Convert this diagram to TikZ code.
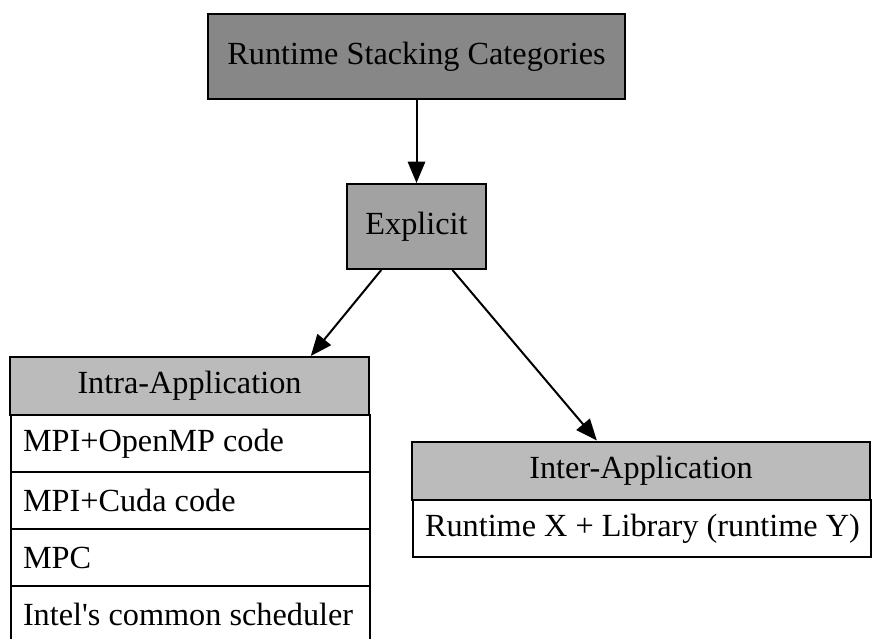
\documentclass[tikz,border=0pt]{standalone}
\usepackage{fontspec}
\setmainfont{Liberation Serif}
\usetikzlibrary{positioning,arrows.meta,calc}
\usepackage{xcolor}
\definecolor{topgray}{HTML}{878787}
\definecolor{midgray}{HTML}{A2A2A2}
\definecolor{headgray}{HTML}{BBBBBB}

\begin{document}
\begin{tikzpicture}[x=0.75pt,y=-0.75pt,font=\fontsize{24.2}{28}\selectfont,>={Triangle[length=16pt,width=13pt]},line width=1.5pt]
\useasboundingbox (0,0) rectangle (872,639);
\tikzset{
  catbox/.style={draw, inner sep=0pt, minimum height=63.75pt},
  headbox/.style={draw, fill=headgray, inner sep=0pt, minimum height=43.5pt},
  rowbox/.style={draw, anchor=west, inner xsep=9pt, inner ysep=0pt, minimum height=42.75pt}
}
\newcommand{\introw}[1]{\makebox[251.25pt][l]{#1}}
\newcommand{\interrow}[1]{\makebox[325.5pt][l]{#1}}
\node[catbox, fill=topgray, minimum width=312.75pt] (cats) at (416.5,56.5) {Runtime Stacking Categories};
\node[catbox, fill=midgray, minimum width=104.25pt] (explicit) at (416.5,226.5) {Explicit};

% intra-application table
\node[headbox, minimum width=269.25pt] (intra) at (189.5,386) {Intra-Application};
\node[rowbox] (intra1) at (10,443.5) {\introw{MPI+OpenMP code}};
\node[rowbox] (intra2) at (10,500.5) {\introw{MPI+Cuda code}};
\node[rowbox] (intra3) at (10,557.5) {\introw{MPC}};
\node[rowbox] (intra4) at (10,614.5) {\introw{Intel\textquotesingle s common scheduler}};

% inter-application table
\node[headbox, minimum width=343.5pt] (inter) at (641,470.5) {Inter-Application};
\node[rowbox] (inter1) at (412,528.5) {\interrow{Runtime X + Library (runtime Y)}};

\draw[->] (cats) -- (explicit);
\draw[->] ($(explicit.south west)!0.25!(explicit.south east)$) -- ($(intra.north west)!0.836!(intra.north east)$);
\draw[->] ($(explicit.south west)!0.755!(explicit.south east)$) -- ($(inter.north west)!0.404!(inter.north east)$);
\end{tikzpicture}
\end{document}
